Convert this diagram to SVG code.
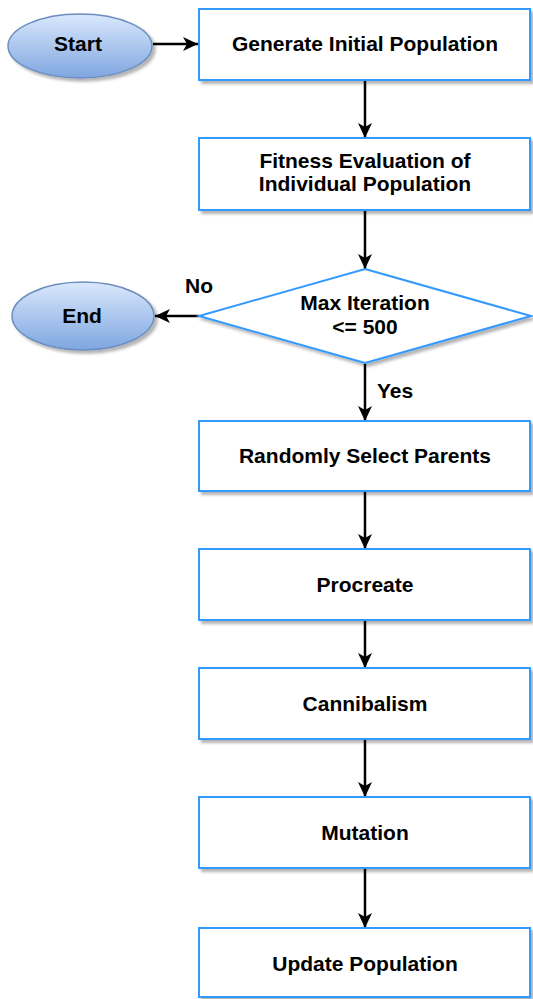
<svg xmlns="http://www.w3.org/2000/svg" width="533" height="999" viewBox="0 0 533 999">
  <defs>
    <linearGradient id="term" x1="0" y1="0" x2="0" y2="1">
      <stop offset="0" stop-color="#dae8fc"/>
      <stop offset="1" stop-color="#7ea6e0"/>
    </linearGradient>
    <filter id="shadow" x="-10%" y="-10%" width="130%" height="140%">
      <feGaussianBlur in="SourceAlpha" stdDeviation="1.5"/>
      <feOffset dx="3" dy="3" result="b"/>
      <feComponentTransfer><feFuncA type="linear" slope="0.3"/></feComponentTransfer>
      <feMerge><feMergeNode/><feMergeNode in="SourceGraphic"/></feMerge>
    </filter>
    <marker id="arrow" viewBox="0 0 15 14" refX="15" refY="7" markerWidth="15" markerHeight="14" markerUnits="userSpaceOnUse" orient="auto">
      <path d="M0,0 L15,7 L0,14 L4,7 Z" fill="#000"/>
    </marker>
  </defs>
  <style>
    .box { fill: #fff; stroke: #3399ff; stroke-width: 2; filter: url(#shadow); }
    .term { fill: url(#term); stroke: #6c8ebf; stroke-width: 1.5; filter: url(#shadow); }
    .lbl { font-family: "Liberation Sans", Arial, sans-serif; font-weight: bold; font-size: 21px; fill: #000; text-anchor: middle; }
    .edge { stroke: #000; stroke-width: 2.5; fill: none; marker-end: url(#arrow); }
  </style>
  <rect width="533" height="999" fill="#fff"/>

  <g id="connectors">
    <line class="edge" x1="153" y1="44" x2="198" y2="44"/>
    <line class="edge" x1="365" y1="81" x2="365" y2="138"/>
    <line class="edge" x1="365" y1="211" x2="365" y2="269"/>
    <line class="edge" x1="199" y1="316" x2="155" y2="316"/>
    <line class="edge" x1="365" y1="364" x2="365" y2="421"/>
    <line class="edge" x1="365" y1="492" x2="365" y2="549"/>
    <line class="edge" x1="365" y1="621" x2="365" y2="668"/>
    <line class="edge" x1="365" y1="740" x2="365" y2="797"/>
    <line class="edge" x1="365" y1="869" x2="365" y2="928"/>
    <text class="lbl" x="199" y="293">No</text>
    <text class="lbl" x="395" y="398">Yes</text>
  </g>

  <g id="start">
    <ellipse class="term" cx="80" cy="46" rx="72" ry="32"/>
    <text class="lbl" x="78" y="51">Start</text>
  </g>

  <g id="generate">
    <rect class="box" x="199" y="9" width="331" height="71"/>
    <text class="lbl" x="365" y="51">Generate Initial Population</text>
  </g>

  <g id="fitness">
    <rect class="box" x="199" y="138" width="331" height="72"/>
    <text class="lbl" x="365" y="167.5">Fitness Evaluation of</text>
    <text class="lbl" x="365" y="191">Individual Population</text>
  </g>

  <g id="decision">
    <polygon class="box" points="365,269 531,316 365,363 199,316"/>
    <text class="lbl" x="365" y="310">Max Iteration</text>
    <text class="lbl" x="365" y="334">&lt;= 500</text>
  </g>

  <g id="end">
    <ellipse class="term" cx="83" cy="316" rx="71" ry="34"/>
    <text class="lbl" x="82" y="323">End</text>
  </g>

  <g id="select">
    <rect class="box" x="199" y="421" width="331" height="70"/>
    <text class="lbl" x="365" y="463">Randomly Select Parents</text>
  </g>

  <g id="procreate">
    <rect class="box" x="199" y="549" width="331" height="71"/>
    <text class="lbl" x="365" y="592">Procreate</text>
  </g>

  <g id="cannibalism">
    <rect class="box" x="199" y="668" width="331" height="71"/>
    <text class="lbl" x="365" y="711">Cannibalism</text>
  </g>

  <g id="mutation">
    <rect class="box" x="199" y="797" width="331" height="71"/>
    <text class="lbl" x="365" y="840">Mutation</text>
  </g>

  <g id="update">
    <rect class="box" x="199" y="928" width="331" height="69"/>
    <text class="lbl" x="365" y="971">Update Population</text>
  </g>
</svg>
